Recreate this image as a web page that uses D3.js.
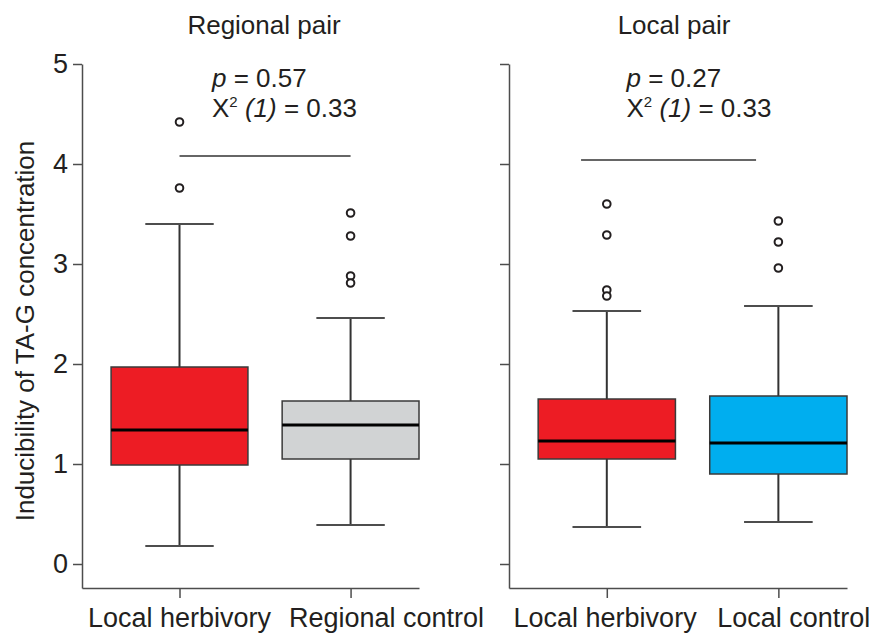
<!DOCTYPE html>
<html>
<head>
<meta charset="utf-8">
<script src="https://cdn.jsdelivr.net/npm/d3@7"></script>
<style>
  body { margin: 0; background: #fff; }
  svg text { font-family: "Liberation Sans", Arial, sans-serif; fill: #231f20; }
</style>
</head>
<body>
<div id="chart"></div>
<script>
// Boxplots of TA-G inducibility, two panels (regional pair / local pair)

const panelTitles = ["Regional pair", "Local pair"];
const categories = [["Local herbivory", "Regional control"], ["Local herbivory", "Local control"]];
const boxColors = [["#ed1c24", "#d1d3d4"], ["#ed1c24", "#00aeef"]];

// per box, in panel order
const whiskerLow  = [[0.18, 0.39], [0.37, 0.42]];
const q1          = [[0.99, 1.05], [1.05, 0.90]];
const medians     = [[1.34, 1.39], [1.23, 1.21]];
const q3          = [[1.97, 1.63], [1.65, 1.68]];
const whiskerHigh = [[3.40, 2.46], [2.53, 2.58]];
const outliers    = [[[4.42, 3.76], [3.51, 3.28, 2.88, 2.81]],
                     [[3.60, 3.29, 2.74, 2.68], [3.43, 3.22, 2.96]]];

const pValues  = ["0.57", "0.27"];
const chiSq    = ["0.33", "0.33"];
const chiDf    = ["1", "1"];
const yTicks   = [0, 1, 2, 3, 4, 5];

const W = 869, H = 634;
const fs = 26;
const panelX = [[82, 419], [509, 847]];
// label centres, bracket ends and text start, in box-position units
const labelPos = [[1.0, 2.21], [0.99, 2.09]];
const titleX = [264, 674];
const bracketSpan = [[1, 2], [0.85, 1.87]];
const bracketY = [4.08, 4.04];
const statX = [1.19, 1.115];

const svg = d3.select("#chart").append("svg")
  .attr("width", W).attr("height", H);

const y = d3.scaleLinear().domain([-0.24, 5]).range([588, 64]);

panelTitles.forEach((title, pi) => {
  const x = d3.scaleLinear().domain([0.43, 2.4]).range(panelX[pi]);
  const g = svg.append("g");

  // axes
  g.append("g").attr("transform", `translate(${panelX[pi][0]},0)`)
    .call(d3.axisLeft(y).tickValues(yTicks).tickSize(9).tickSizeOuter(0).tickPadding(5)
      .tickFormat(pi === 0 ? d3.format("d") : () => ""));
  const gx = g.append("g").attr("transform", `translate(0,${y(-0.24)})`)
    .call(d3.axisBottom(x).tickValues([1, 2]).tickSize(10).tickSizeOuter(0).tickFormat(""));
  g.selectAll(".domain, .tick line").attr("stroke", "#4d4d4d").attr("stroke-width", 1.5);
  g.selectAll(".tick text").attr("font-size", 27).attr("font-family", null).attr("fill", "#231f20");

  // category labels (nudged apart so they do not collide)
  categories[pi].forEach((c, i) => {
    g.append("text").attr("x", x(labelPos[pi][i])).attr("y", 627)
      .attr("text-anchor", "middle").attr("font-size", 27).text(c);
  });

  // title
  g.append("text").attr("x", titleX[pi]).attr("y", 34)
    .attr("text-anchor", "middle").attr("font-size", fs).text(title);

  // boxes
  [0, 1].forEach(bi => {
    const cx = x(bi + 1);
    const halfBox = x(0.4) - x(0), halfCap = x(0.2) - x(0);
    const bg = g.append("g");
    bg.append("line").attr("x1", cx).attr("x2", cx)
      .attr("y1", y(whiskerHigh[pi][bi])).attr("y2", y(q3[pi][bi]))
      .attr("stroke", "#333").attr("stroke-width", 2);
    bg.append("line").attr("x1", cx).attr("x2", cx)
      .attr("y1", y(q1[pi][bi])).attr("y2", y(whiskerLow[pi][bi]))
      .attr("stroke", "#333").attr("stroke-width", 2);
    [whiskerHigh[pi][bi], whiskerLow[pi][bi]].forEach(v => {
      bg.append("line").attr("x1", cx - halfCap).attr("x2", cx + halfCap)
        .attr("y1", y(v)).attr("y2", y(v)).attr("stroke", "#4d4d4d").attr("stroke-width", 2);
    });
    bg.append("rect").attr("x", cx - halfBox).attr("width", 2 * halfBox)
      .attr("y", y(q3[pi][bi])).attr("height", y(q1[pi][bi]) - y(q3[pi][bi]))
      .attr("fill", boxColors[pi][bi]).attr("stroke", "#3a3a3a").attr("stroke-width", 1.5);
    bg.append("line").attr("x1", cx - halfBox).attr("x2", cx + halfBox)
      .attr("y1", y(medians[pi][bi])).attr("y2", y(medians[pi][bi]))
      .attr("stroke", "#000").attr("stroke-width", 3);
    bg.selectAll("circle").data(outliers[pi][bi]).join("circle")
      .attr("cx", cx).attr("cy", d => y(d)).attr("r", 3.8)
      .attr("fill", "#fff").attr("stroke", "#231f20").attr("stroke-width", 2);
  });

  // significance bracket and stats
  g.append("line").attr("x1", x(bracketSpan[pi][0])).attr("x2", x(bracketSpan[pi][1]))
    .attr("y1", y(bracketY[pi])).attr("y2", y(bracketY[pi]))
    .attr("stroke", "#333").attr("stroke-width", 1.5);
  const t1 = g.append("text").attr("x", x(statX[pi])).attr("y", 87).attr("font-size", fs);
  t1.append("tspan").attr("font-style", "italic").text("p");
  t1.append("tspan").text(` = ${pValues[pi]}`);
  const t2 = g.append("text").attr("x", x(statX[pi])).attr("y", 117).attr("font-size", fs);
  t2.append("tspan").text("\u03A7");
  t2.append("tspan").attr("font-size", 15).attr("dy", -10).text("2");
  t2.append("tspan").attr("dy", 10).text(" ");
  t2.append("tspan").attr("font-style", "italic").text(`(${chiDf[pi]})`);
  t2.append("tspan").text(` = ${chiSq[pi]}`);
});

// y axis title
svg.append("text").attr("transform", `translate(34,331) rotate(-90)`)
  .attr("text-anchor", "middle").attr("font-size", fs)
  .text("Inducibility of TA-G concentration");
</script>
</body>
</html>
